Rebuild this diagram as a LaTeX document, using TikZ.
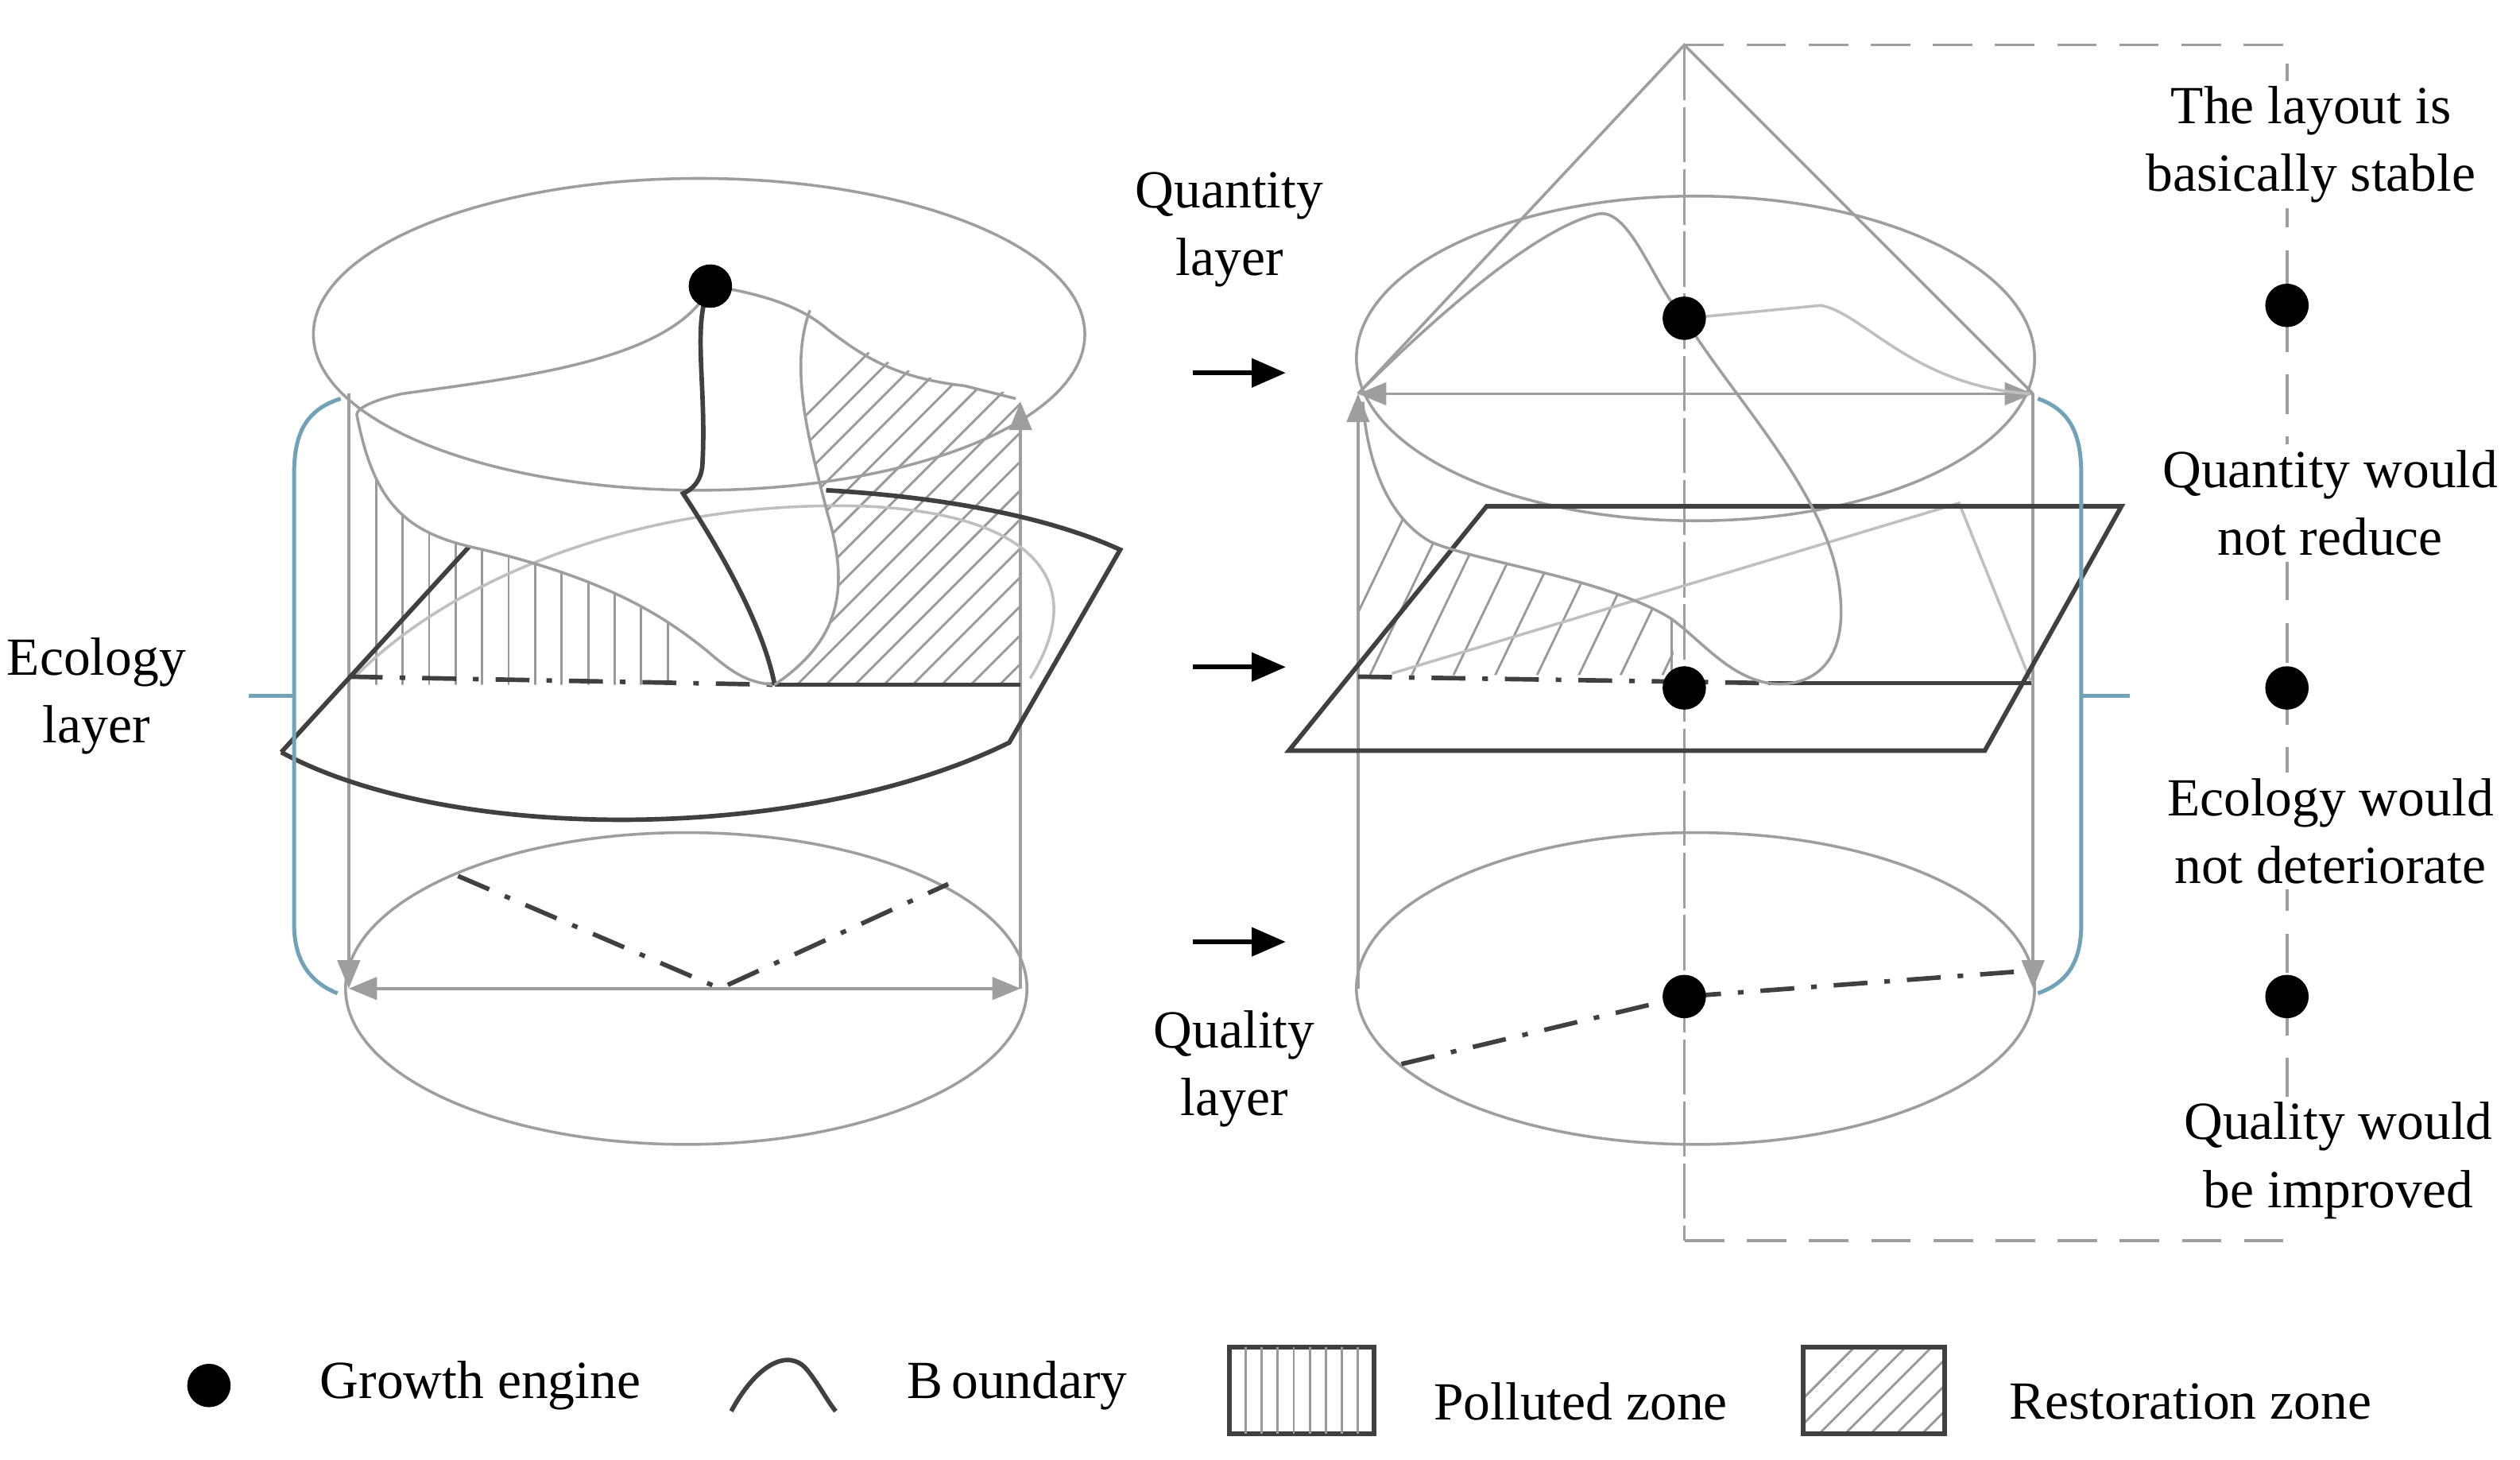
\documentclass[tikz,border=0pt]{standalone}
\usepackage{fontspec}
\setmainfont{Liberation Serif}
\usetikzlibrary{arrows.meta}
\tikzset{
 lg/.style={draw=black!38, line width=0.5pt},
 dk/.style={draw=black!75, line width=0.8pt},
 hat/.style={draw=black!40, line width=0.4pt},
 blu/.style={draw=cyan!40!gray, line width=0.7pt},
 gtip/.style={-{Triangle[length=5pt,width=4pt]}},
 gtips/.style={{Triangle[length=5pt,width=4pt]}-{Triangle[length=5pt,width=4pt]}},
 lbl/.style={font=\fontsize{9.5}{12}\selectfont, align=center, inner sep=1pt},
 wlbl/.style={lbl, fill=white},
 eng/.style={circle, fill=black, minimum size=0.27cm, inner sep=0pt},
 dashdot/.style={dk, dash pattern=on 6pt off 3pt on 1pt off 3pt},
}
\begin{document}
\begin{tikzpicture}[x=0.1mm,y=-0.1mm]
\useasboundingbox (0,0) rectangle (1568,908);
%================= LEFT CYLINDER
\begin{scope}
\clip (217,250) -- (222,258) .. controls (232,310) and (250,330) .. (292,340) .. controls (380,360) and (415,385) .. (440,405) .. controls (455,418) and (465,425) .. (482,426) -- (217,426) -- cycle;
\foreach \i in {0,...,11} \draw[hat] (234+\i*16.5,230) -- (234+\i*16.5,426);
\end{scope}
\begin{scope}
\clip (504,193) .. controls (530,215) and (560,238) .. (635,245) -- (635,425) -- (482,426) .. controls (520,400) and (530,370) .. (515,320) .. controls (505,280) and (490,230) .. (504,193);
\foreach \i in {0,...,22} \draw[hat] (330+\i*18,430) -- ++(260,-260);
\end{scope}
\draw[lg] (435,208) ellipse [x radius=240, y radius=97];
\draw[lg] (427,615) ellipse [x radius=212, y radius=97];
\draw[lg,gtip] (217,245) -- (217,615);
\draw[lg,gtip] (635,615) -- (635,250);
\draw[lg,gtips] (217,615) -- (635,615);
\draw[dashdot] (285,545) -- (448,615) -- (590,550);
\draw[draw=black!25, line width=0.5pt] (220,422) .. controls (280,360) and (400,310) .. (540,315) .. controls (640,320) and (680,360) .. (641,422);
\draw[dk] (175,468) -- (292,340);
\draw[dk] (514,305) .. controls (600,310) and (660,325) .. (697,342) -- (628,462) .. controls (500,525) and (280,525) .. (175,468);
\draw[dashdot] (217,421) -- (482,426);
\draw[dk] (482,426) -- (635,426);
\draw[lg] (442,178) .. controls (420,225) and (320,235) .. (250,245) .. controls (228,250) and (222,255) .. (222,258) .. controls (232,310) and (250,330) .. (292,340) .. controls (380,360) and (415,385) .. (440,405) .. controls (455,418) and (465,425) .. (482,426);
\draw[dk] (442,178) .. controls (430,200) and (440,240) .. (437,290) .. controls (436,300) and (430,305) .. (425,307) .. controls (450,345) and (475,390) .. (482,426);
\draw[lg] (455,180) .. controls (480,185) and (500,192) .. (515,205) .. controls (535,220) and (555,235) .. (600,240) -- (632,248);
\draw[lg] (504,193) .. controls (490,230) and (505,280) .. (515,320) .. controls (530,370) and (520,400) .. (482,426);
\node[eng] (e1) at (442,178) {};
\draw[blu] (212,248) .. controls (190,255) and (183,270) .. (183,295) -- (183,575) .. controls (183,600) and (195,612) .. (210,618);
\draw[blu] (155,433) -- (183,433);
\node[lbl] (eco) at (60,433) {Ecology\\layer};
%================= MIDDLE
\node[lbl] (qn) at (765,143) {Quantity\\layer};
\node[lbl] (ql) at (768,665) {Quality\\layer};
\coordinate (a1) at (742,232); \coordinate (b1) at (800,232);
\coordinate (a2) at (742,415); \coordinate (b2) at (800,415);
\coordinate (a3) at (742,586); \coordinate (b3) at (800,586);
\foreach \p in {1,2,3} \draw[line width=0.8pt,-{Triangle[length=6pt,width=5pt]}] (a\p) -- (b\p);
%================= RIGHT CYLINDER
\begin{scope}
\clip (848,250) .. controls (850,280) and (860,320) .. (890,337) .. controls (920,350) and (1000,360) .. (1040,385) -- (1042,420) -- (845,420) -- cycle;
\foreach \i in {-1,...,8} \draw[hat] (850+\i*26,425) -- ++(70,-146);
\end{scope}
\draw[hat] (1040,385) -- (1040,420);
\draw[lg] (1055,223) ellipse [x radius=211, y radius=101];
\draw[lg] (1055,615) ellipse [x radius=211, y radius=97];
\draw[lg] (845,245) -- (1048,28) -- (1265,245);
\draw[lg,gtips] (845,245) -- (1265,245);
\draw[lg,gtip] (845,615) -- (845,245);
\draw[lg,gtip] (1265,245) -- (1265,615);
\draw[lg, dash pattern=on 7pt off 4pt] (1048,28) -- (1423,28) -- (1423,772) -- (1048,772) -- cycle;
\draw[lg, dash pattern=on 7pt off 4pt] (1048,28) -- (1048,772);
\draw[draw=black!25, line width=0.5pt] (866,419) -- (1219,313) -- (1264,425);
\draw[dk] (802,467) -- (925,315) -- (1320,315) -- (1235,467) -- cycle;
\draw[dashdot] (845,421) -- (1100,425);
\draw[dk] (1100,425) -- (1264,425);
\draw[lg] (845,245) .. controls (900,190) and (960,140) .. (995,133) .. controls (1015,130) and (1030,180) .. (1048,198) .. controls (1080,250) and (1140,310) .. (1145,370) .. controls (1150,420) and (1120,428) .. (1100,425) .. controls (1075,420) and (1060,400) .. (1040,385) .. controls (1000,360) and (920,350) .. (890,337) .. controls (860,320) and (850,280) .. (848,250);
\draw[draw=black!25, line width=0.5pt] (1060,197) -- (1133,190) .. controls (1160,195) and (1190,240) .. (1263,245);
\draw[dashdot] (872,662) -- (1048,620) -- (1262,604);
\node[eng] (e2) at (1048,198) {};
\node[eng] (e3) at (1048,428) {};
\node[eng] (e4) at (1048,620) {};
\draw[blu] (1268,248) .. controls (1288,255) and (1295,270) .. (1295,295) -- (1295,575) .. controls (1295,600) and (1285,612) .. (1268,618);
\draw[blu] (1295,433) -- (1325,433);
\node[wlbl] (t1) at (1438,90) {The layout is\\basically stable};
\node[wlbl] (t2) at (1450,313) {Quantity would\\not reduce};
\node[wlbl] (t3) at (1450,517) {Ecology would\\not deteriorate};
\node[wlbl] (t4) at (1455,722) {Quality would\\be improved};
\node[eng] (r1) at (1423,190) {};
\node[eng] (r2) at (1423,428) {};
\node[eng] (r3) at (1423,620) {};
%================= LEGEND
\node[eng] (lg1) at (130,862) {};
\node[lbl, anchor=west] (lt1) at (195,862) {Growth engine};
\draw[dk] (455,878) .. controls (470,850) and (490,838) .. (502,852) .. controls (510,862) and (515,872) .. (520,878);
\node[lbl, anchor=west] (lt2) at (560,862) {B\,oundary};
\draw[dk] (765,838) rectangle (855,892);
\foreach \i in {1,...,8} \draw[hat] (765+\i*10,838) -- (765+\i*10,892);
\node[lbl, anchor=west] (lt3) at (888,872) {Polluted zone};
\begin{scope}
\clip (1122,838) rectangle (1210,892);
\foreach \i in {0,...,8} \draw[hat] (1100+\i*16,892) -- ++(54,-54);
\end{scope}
\draw[dk] (1122,838) rectangle (1210,892);
\node[lbl, anchor=west] (lt4) at (1246,872) {Restoration zone};
\end{tikzpicture}
\end{document}
